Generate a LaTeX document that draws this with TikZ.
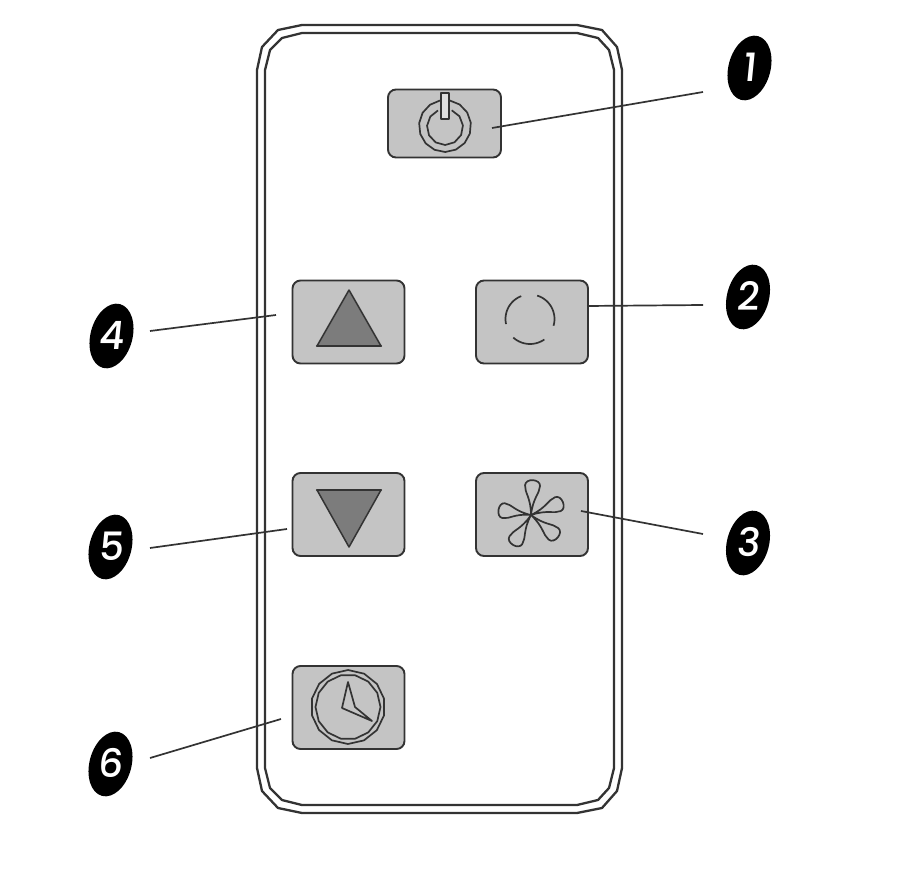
\documentclass[tikz,border=0pt]{standalone}
\usepackage{fontspec}
\usetikzlibrary{shapes.geometric}
\newfontfamily\badgefont[FakeSlant=0.1]{Poppins Medium}
\definecolor{ink}{HTML}{333333}
\definecolor{keyfill}{HTML}{C4C4C4}
\definecolor{trifill}{HTML}{7C7C7C}
\tikzset{
  bodyline/.style={draw=ink,line width=2.3pt,line join=round},
  keybox/.style={draw=ink,fill=keyfill,line width=1.9pt,rounded corners=8pt,minimum width=#1,minimum height=83pt,inner sep=0pt,outer sep=0pt},
  keybox/.default=112pt,
  icon/.style={draw=ink,line width=1.7pt,line join=round},
  leader/.style={draw=ink,line width=1.7pt},
  tri/.style={draw=ink,fill=trifill,line width=1.5pt,line join=round},
  badge/.style={ellipse,fill=black,text=white,minimum width=42pt,minimum height=66pt,inner sep=0pt,rotate=-15,font=\badgefont\fontsize{39}{39}\selectfont},
}
\newcommand{\upr}[1]{\rotatebox{15}{\makebox[0pt][c]{\raisebox{-.35em}[0pt][0pt]{#1}}}}
\newcommand{\petal}[2]{%
  \draw[icon,shift={(531,515)},rotate=#1]
    (0,0) .. controls (#2*.5,1) and (#2*.62,7.5) .. (#2*.84,7.5)
    .. controls (#2*1.05,7.5) and (#2*1.05,-7.5) .. (#2*.84,-7.5)
    .. controls (#2*.62,-7.5) and (#2*.5,-1) .. (0,0);}
\begin{document}
\begin{tikzpicture}[x=1pt,y=-1pt]
\useasboundingbox (0,0) rectangle (921,869);
% body
\draw[bodyline] (302,25) -- (577,25) -- (602,30) -- (617,47) -- (622,70) -- (622,768) -- (617,791) -- (602,808) -- (577,813) -- (302,813) -- (278,808) -- (262,791) -- (257,768) -- (257,70) -- (262,47) -- (278,30) -- cycle;
\draw[bodyline] (302,33) -- (577,33) -- (598,38) -- (609,50) -- (614,70) -- (614,768) -- (609,788) -- (598,800) -- (577,805) -- (302,805) -- (282,800) -- (270,788) -- (265,768) -- (265,70) -- (270,50) -- (282,38) -- cycle;
% keys
\node[keybox=113pt,minimum height=68pt] (power) at (444.5,123.5) {};
\node[keybox] (up) at (348.5,322) {};
\node[keybox] (round) at (532,322) {};
\node[keybox] (down) at (348.5,514.5) {};
\node[keybox] (fan) at (532,514.5) {};
\node[keybox] (clock) at (348.5,707.5) {};
% power icon
\draw[icon] plot[domain=-80:259,samples=15] ({445+26*cos(\x)},{126+26*sin(\x)});
\draw[icon] plot[domain=-68:247,samples=11] ({445+18*cos(\x)},{127+18*sin(\x)});
\draw[icon,fill=keyfill!55!white] (441,93) rectangle (449,119);
% triangles
\draw[tri] (349,290) -- (381,346) -- (317,346) -- cycle;
\draw[ink,line width=2.2pt,line cap=round] (317,346) -- (381,346);
\draw[tri] (317,490) -- (381,490) -- (349,547) -- cycle;
\draw[ink,line width=2.2pt,line cap=round] (317,490) -- (381,490);
% broken circle
\draw[icon] plot[domain=168:249,samples=20] ({530+24.5*cos(\x)},{319+24.5*sin(\x)});
\draw[icon] plot[domain=287:376,samples=20] ({530+24.5*cos(\x)},{319+24.5*sin(\x)});
\draw[icon] plot[domain=55:132,samples=20] ({530+25*cos(\x)},{319+25*sin(\x)});
% fan
\petal{87}{35}
\petal{171}{33}
\petal{22}{34.5}
\petal{-40}{35}
\petal{-121}{35}
% clock
\draw[icon] plot[domain=0:360,samples=15] ({348+37*cos(\x+13)},{707+37*sin(\x+13)});
\draw[icon] plot[domain=0:360,samples=15] ({348+32.5*cos(\x)},{707+32.5*sin(\x)});
\draw[icon] (348,682) -- (342,708) -- (372,721) -- (355,707) -- cycle;
% badges
\node[badge] (b1) at (749.5,68) {\upr{1}};
\node[badge] (b2) at (748,297) {\upr{2}};
\node[badge] (b3) at (748,543) {\upr{3}};
\node[badge] (b4) at (111.5,336) {\upr{4}};
\node[badge] (b5) at (110.5,547) {\upr{5}};
\node[badge] (b6) at (110.5,764) {\upr{6}};
% leaders
\coordinate (e1) at (703,92);  \coordinate (s1) at (492,128);
\coordinate (e2) at (703,305); \coordinate (s2) at (587,306);
\coordinate (e3) at (703,534); \coordinate (s3) at (581,511);
\coordinate (e4) at (150,331); \coordinate (s4) at (276,315);
\coordinate (e5) at (150,548); \coordinate (s5) at (287,529);
\coordinate (e6) at (150,758); \coordinate (s6) at (281,719);
\draw[leader] (s1) -- (e1);
\draw[leader] (s2) -- (e2);
\draw[leader] (s3) -- (e3);
\draw[leader] (s4) -- (e4);
\draw[leader] (s5) -- (e5);
\draw[leader] (s6) -- (e6);
\end{tikzpicture}
\end{document}
